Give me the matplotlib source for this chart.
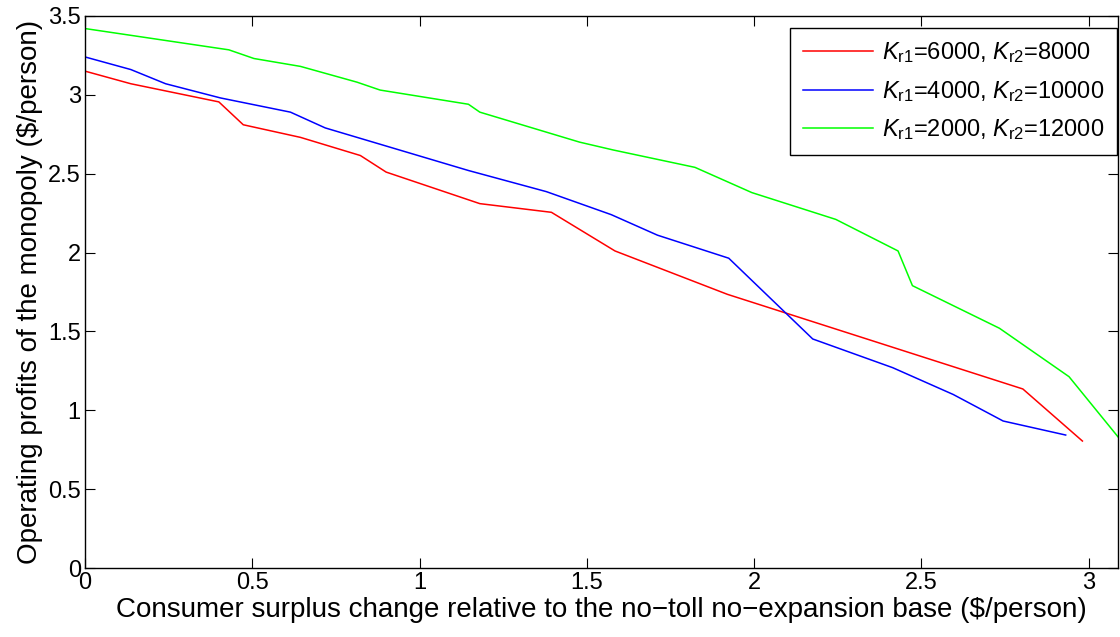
import numpy as np
import matplotlib
matplotlib.use("Agg")
import matplotlib.pyplot as plt

plt.rcParams['font.family'] = ['Liberation Sans', 'DejaVu Sans']
plt.rcParams['mathtext.fontset'] = 'custom'
plt.rcParams['mathtext.rm'] = 'Liberation Sans'
plt.rcParams['mathtext.it'] = 'Liberation Sans:italic'

# Kr1=6000, Kr2=8000
cs_red = [0.0, 0.137, 0.40, 0.473, 0.644, 0.823, 0.90, 1.18, 1.394, 1.584, 1.92, 2.803, 2.981]
op_red = [3.15, 3.07, 2.955, 2.81, 2.73, 2.615, 2.51, 2.31, 2.255, 2.01, 1.735, 1.135, 0.805]

# Kr1=4000, Kr2=10000
cs_blue = [0.0, 0.137, 0.241, 0.405, 0.614, 0.718, 1.146, 1.379, 1.573, 1.711, 1.924, 2.175, 2.414, 2.595, 2.744, 2.931]
op_blue = [3.24, 3.16, 3.07, 2.98, 2.89, 2.79, 2.52, 2.386, 2.24, 2.11, 1.964, 1.452, 1.27, 1.10, 0.932, 0.843]

# Kr1=2000, Kr2=12000
cs_green = [0.0, 0.43, 0.505, 0.644, 0.813, 0.882, 1.146, 1.18, 1.478, 1.579, 1.823, 1.993, 2.244, 2.43, 2.473, 2.733, 2.941, 3.088]
op_green = [3.42, 3.285, 3.23, 3.18, 3.08, 3.03, 2.94, 2.89, 2.70, 2.65, 2.54, 2.38, 2.21, 2.01, 1.79, 1.52, 1.213, 0.83]

labels = [r'$K_{\mathrm{r1}}$=6000, $K_{\mathrm{r2}}$=8000',
          r'$K_{\mathrm{r1}}$=4000, $K_{\mathrm{r2}}$=10000',
          r'$K_{\mathrm{r1}}$=2000, $K_{\mathrm{r2}}$=12000']

fig = plt.figure(figsize=(11.2, 6.37), dpi=100)
ax = fig.add_axes([0.0759, 0.1083, 0.9225, 0.8667])

ax.plot(cs_red, op_red, color='#ff0000', lw=1.1, label=labels[0])
ax.plot(cs_blue, op_blue, color='#0000ff', lw=1.1, label=labels[1])
ax.plot(cs_green, op_green, color='#00ff00', lw=1.1, label=labels[2])

ax.set_xlim(0, 3.088)
ax.set_ylim(0, 3.5)
ax.set_xticks(np.arange(0, 3.01, 0.5))
ax.set_xticklabels(['0', '0.5', '1', '1.5', '2', '2.5', '3'])
ax.set_yticks(np.arange(0, 3.51, 0.5))
ax.set_yticklabels(['0', '0.5', '1', '1.5', '2', '2.5', '3', '3.5'])
ax.tick_params(direction='in', top=True, right=True, labelsize=17, length=7, pad=3)
for s in ax.spines.values():
    s.set_linewidth(1.0)

ax.set_xlabel('Consumer surplus change relative to the no\u2212toll no\u2212expansion base ($/person)', fontsize=20, labelpad=2)
ax.set_ylabel('Operating profits of the monopoly ($/person)', fontsize=20, labelpad=4)

leg = ax.legend(loc='upper right', bbox_to_anchor=(0.9973, 0.956), bbox_transform=fig.transFigure,
                fontsize=17, fancybox=False, framealpha=1,
                edgecolor='black', borderaxespad=0.0, handlelength=3.0,
                labelspacing=0.58, borderpad=0.52, handletextpad=0.38)
leg.get_frame().set_linewidth(1.0)

fig.savefig('out.png', dpi=100)
